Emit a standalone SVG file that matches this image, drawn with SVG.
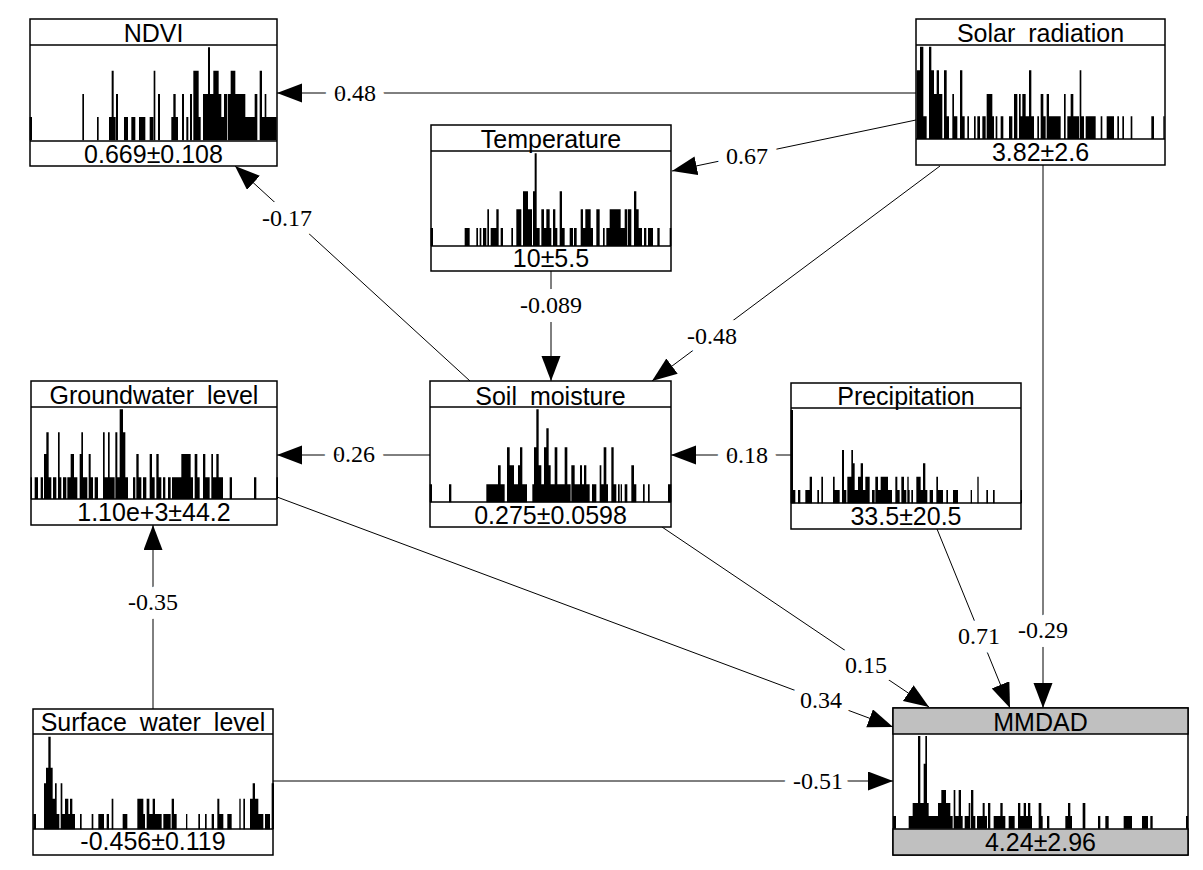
<svg xmlns="http://www.w3.org/2000/svg" width="1203" height="870" viewBox="0 0 1203 870">
<style>
.box{fill:#fff;stroke:#000;stroke-width:1.5}
.band{fill:#c0c0c0;stroke:#000;stroke-width:1.5}
.div{stroke:#000;stroke-width:1.5}
.t{font-family:"Liberation Sans",Arial,sans-serif;font-size:25px;text-anchor:middle;fill:#000;word-spacing:6px}
.h{fill:#000}
.e{stroke:#000;stroke-width:1;fill:none;marker-end:url(#ah)}
.l{font-family:"Liberation Serif","Times New Roman",serif;font-size:24px;text-anchor:middle;fill:#000;paint-order:stroke;stroke:#fff;stroke-width:18px;stroke-linejoin:round}
</style>
<defs>
<marker id="ah" markerUnits="userSpaceOnUse" markerWidth="26" markerHeight="20" refX="25" refY="9.5" orient="auto" viewBox="0 0 26 20">
<path d="M0,0 L25,9.5 L0,19 Z" fill="#000"/>
</marker>
</defs>
<rect width="1203" height="870" fill="#fff"/>

<g id="connectors">
<path class="e" d="M916,93 L277,93"/>
<path class="e" d="M916,120 L672,171"/>
<path class="e" d="M940,166 L652,381"/>
<path class="e" d="M1043,165 L1043,708"/>
<path class="e" d="M551,271 L551,381"/>
<path class="e" d="M470,381 L235,166"/>
<path class="e" d="M430,455 L277,455"/>
<path class="e" d="M791,455 L671,455"/>
<path class="e" d="M662,527 L929,707"/>
<path class="e" d="M937,529 L1010,708"/>
<path class="e" d="M277,497 L893,727"/>
<path class="e" d="M153,709 L153,525"/>
<path class="e" d="M273,781 L893,781"/>
<text class="l" x="355" y="101">0.48</text>
<text class="l" x="747" y="164">0.67</text>
<text class="l" x="712" y="344">-0.48</text>
<text class="l" x="1043" y="638">-0.29</text>
<text class="l" x="551" y="313">-0.089</text>
<text class="l" x="287" y="226">-0.17</text>
<text class="l" x="354" y="462">0.26</text>
<text class="l" x="747" y="463">0.18</text>
<text class="l" x="866" y="673">0.15</text>
<text class="l" x="979" y="644">0.71</text>
<text class="l" x="821" y="708">0.34</text>
<text class="l" x="153" y="610">-0.35</text>
<text class="l" x="818" y="789">-0.51</text>
</g>

<g id="node-ndvi">
<rect class="box" x="30" y="19" width="247" height="147"/>
<path class="h" transform="translate(28,18) scale(0.33333)" d="M5 367V297H12V367ZM163 367V228H168V367ZM207 367V297H212V367ZM243 367V297H251V367ZM251 367V158H257V367ZM257 367V297H263V367ZM264 367V228H270V367ZM288 367V297H300V367ZM310 367V297H322V367ZM333 367V297H352V367ZM365 367V297H376V367ZM377 367V158H382V367ZM390 367V228H396V367ZM430 367V297H436V367ZM436 367V228H443V367ZM443 367V297H450V367ZM462 367V228H468V367ZM475 367V297H481V367ZM486 367V228H492V367ZM496 367V158H512V367ZM512 367V297H518V367ZM525 367V228H540V367ZM540 367V88H546V367ZM546 367V228H556V367ZM556 367V158H572V367ZM572 367V228H580V367ZM580 367V297H588V367ZM588 367V228H598V367ZM600 367V228H608V367ZM608 367V158H622V367ZM622 367V228H652V367ZM652 367V297H680V367ZM680 367V228H688V367ZM695 367V158H702V367ZM702 367V297H746V367ZM710 367V228H715V367Z"/>
<line class="div" x1="30" y1="45" x2="277" y2="45"/>
<line class="div" x1="30" y1="141" x2="277" y2="141"/>
<text class="t" x="153.5" y="42">NDVI</text>
<text class="t" x="153.5" y="163">0.669±0.108</text>
</g>

<g id="node-solar">
<rect class="box" x="916" y="19" width="249" height="146"/>
<path class="h" transform="translate(914,18) scale(0.33333)" d="M8 363V157H18V363ZM18 363V86H28V363ZM28 363V295H38V363ZM45 363V86H52V363ZM52 363V157H60V363ZM60 363V228H68V363ZM68 363V157H75V363ZM75 363V228H85V363ZM90 363V157H98V363ZM98 363V295H105V363ZM115 363V228H120V363ZM120 363V295H130V363ZM138 363V157H145V363ZM145 363V295H152V363ZM160 363V295H165V363ZM180 363V295H185V363ZM190 363V295H198V363ZM205 363V295H215V363ZM218 363V228H235V363ZM235 363V295H240V363ZM245 363V295H250V363ZM260 363V295H268V363ZM285 363V295H295V363ZM300 363V228H310V363ZM315 363V228H320V363ZM320 363V295H325V363ZM325 363V228H335V363ZM335 363V295H345V363ZM345 363V157H352V363ZM352 363V295H360V363ZM370 363V295H375V363ZM380 363V228H388V363ZM388 363V295H395V363ZM398 363V228H405V363ZM405 363V295H440V363ZM450 363V228H455V363ZM460 363V295H470V363ZM470 363V228H478V363ZM478 363V295H495V363ZM497 363V157H502V363ZM502 363V295H510V363ZM515 363V295H545V363ZM560 363V295H565V363ZM578 363V295H600V363ZM610 363V295H615V363ZM625 363V295H630V363ZM650 363V295H655V363ZM712 363V295H720V363ZM748 363V295H752V363Z"/>
<line class="div" x1="916" y1="45" x2="1165" y2="45"/>
<line class="div" x1="916" y1="139" x2="1165" y2="139"/>
<text class="t" x="1040.5" y="42">Solar radiation</text>
<text class="t" x="1040.5" y="161">3.82±2.6</text>
</g>

<g id="node-temperature">
<rect class="box" x="431" y="125" width="240" height="146"/>
<path class="h" transform="translate(428,124) scale(0.33333)" d="M8 366V312H15V366ZM110 366V312H125V366ZM145 366V312H150V366ZM155 366V312H160V366ZM165 366V312H175V366ZM178 366V256H183V366ZM188 366V312H205V366ZM205 366V256H212V366ZM218 366V312H225V366ZM250 366V312H255V366ZM265 366V256H280V366ZM285 366V202H300V366ZM300 366V256H312V366ZM315 366V202H320V366ZM320 366V88H326V366ZM326 366V312H335V366ZM340 366V256H348V366ZM348 366V312H355V366ZM355 366V256H365V366ZM365 366V312H370V366ZM375 366V256H382V366ZM382 366V312H388V366ZM395 366V202H402V366ZM402 366V312H410V366ZM425 366V312H435V366ZM438 366V312H446V366ZM458 366V256H465V366ZM465 366V312H472V366ZM472 366V256H488V366ZM488 366V312H495V366ZM505 366V256H515V366ZM525 366V312H530V366ZM535 366V312H545V366ZM545 366V256H578V366ZM578 366V312H590V366ZM590 366V256H598V366ZM600 366V256H610V366ZM618 366V202H625V366ZM625 366V256H632V366ZM632 366V312H642V366ZM648 366V312H655V366ZM660 366V312H675V366ZM688 366V312H695V366ZM725 366V312H730V366Z"/>
<line class="div" x1="431" y1="151" x2="671" y2="151"/>
<line class="div" x1="431" y1="246" x2="671" y2="246"/>
<text class="t" x="551" y="148">Temperature</text>
<text class="t" x="551" y="267">10±5.5</text>
</g>

<g id="node-groundwater">
<rect class="box" x="31" y="381" width="246" height="144"/>
<path class="h" transform="translate(28,380) scale(0.33333)" d="M8 357V292H12V357ZM20 357V292H30V357ZM38 357V292H45V357ZM48 357V222H55V357ZM55 357V157H62V357ZM62 357V292H70V357ZM75 357V292H85V357ZM90 357V157H95V357ZM95 357V292H100V357ZM105 357V292H115V357ZM118 357V292H128V357ZM128 357V222H138V357ZM138 357V292H148V357ZM155 357V222H160V357ZM160 357V157H165V357ZM165 357V292H178V357ZM182 357V222H188V357ZM188 357V292H195V357ZM200 357V292H210V357ZM225 357V157H230V357ZM230 357V292H240V357ZM240 357V157H245V357ZM245 357V292H260V357ZM262 357V157H268V357ZM268 357V292H275V357ZM275 357V88H285V357ZM285 357V157H292V357ZM292 357V292H300V357ZM315 357V292H322V357ZM325 357V222H332V357ZM332 357V292H340V357ZM345 357V292H355V357ZM365 357V222H372V357ZM372 357V292H380V357ZM385 357V222H392V357ZM392 357V292H400V357ZM405 357V292H412V357ZM420 357V292H428V357ZM432 357V292H460V357ZM460 357V222H488V357ZM488 357V292H495V357ZM500 357V222H508V357ZM508 357V292H515V357ZM525 357V222H532V357ZM532 357V292H545V357ZM550 357V222H555V357ZM555 357V292H565V357ZM565 357V222H572V357ZM572 357V292H585V357ZM605 357V292H612V357ZM678 357V292H685V357ZM745 357V292H750V357Z"/>
<line class="div" x1="31" y1="407" x2="277" y2="407"/>
<line class="div" x1="31" y1="499" x2="277" y2="499"/>
<text class="t" x="154" y="404">Groundwater level</text>
<text class="t" x="154" y="521">1.10e+3±44.2</text>
</g>

<g id="node-soil">
<rect class="box" x="430" y="381" width="241" height="146"/>
<path class="h" transform="translate(428,380) scale(0.33333)" d="M5 367V313H12V367ZM63 367V313H70V367ZM175 367V313H210V367ZM210 367V256H218V367ZM218 367V313H230V367ZM237 367V202H245V367ZM245 367V256H258V367ZM258 367V313H270V367ZM270 367V256H276V367ZM276 367V202H283V367ZM283 367V313H297V367ZM313 367V313H318V367ZM318 367V202H325V367ZM325 367V88H332V367ZM332 367V256H340V367ZM340 367V313H348V367ZM348 367V202H355V367ZM355 367V145H362V367ZM362 367V256H368V367ZM368 367V313H380V367ZM380 367V202H388V367ZM388 367V313H410V367ZM410 367V202H418V367ZM418 367V313H428V367ZM430 367V256H440V367ZM440 367V313H456V367ZM456 367V256H462V367ZM462 367V313H468V367ZM468 367V256H475V367ZM475 367V313H485V367ZM492 367V313H505V367ZM515 367V256H520V367ZM520 367V313H527V367ZM527 367V202H535V367ZM535 367V313H540V367ZM550 367V202H557V367ZM557 367V313H565V367ZM570 367V313H575V367ZM578 367V313H582V367ZM590 367V313H598V367ZM610 367V256H618V367ZM618 367V313H625V367ZM645 367V313H650V367ZM660 367V313H665V367ZM720 367V313H730V367Z"/>
<line class="div" x1="430" y1="407" x2="671" y2="407"/>
<line class="div" x1="430" y1="502" x2="671" y2="502"/>
<text class="t" x="550.5" y="405">Soil moisture</text>
<text class="t" x="550.5" y="524">0.275±0.0598</text>
</g>

<g id="node-precipitation">
<rect class="box" x="791" y="383" width="230" height="146"/>
<path class="h" transform="translate(788,380) scale(0.33333)" d="M8 370V90H15V370ZM15 370V330H22V370ZM30 370V330H37V370ZM52 370V330H65V370ZM65 370V290H72V370ZM88 370V330H93V370ZM100 370V290H105V370ZM135 370V290H140V370ZM140 370V330H155V370ZM162 370V210H168V370ZM168 370V330H175V370ZM178 370V290H190V370ZM190 370V210H195V370ZM195 370V250H200V370ZM200 370V330H210V370ZM210 370V290H218V370ZM218 370V250H225V370ZM225 370V330H232V370ZM232 370V290H245V370ZM252 370V330H260V370ZM262 370V290H270V370ZM270 370V330H278V370ZM278 370V290H300V370ZM300 370V330H312V370ZM322 370V290H328V370ZM328 370V330H335V370ZM340 370V290H348V370ZM348 370V330H355V370ZM358 370V290H362V370ZM362 370V330H365V370ZM370 370V330H375V370ZM385 370V290H398V370ZM398 370V330H405V370ZM405 370V250H412V370ZM412 370V330H418V370ZM425 370V330H435V370ZM445 370V290H450V370ZM450 370V330H465V370ZM475 370V330H480V370ZM495 370V330H510V370ZM548 370V330H552V370ZM568 370V290H572V370ZM595 370V330H600V370ZM615 370V330H620V370ZM698 370V330H702V370Z"/>
<line class="div" x1="791" y1="408" x2="1021" y2="408"/>
<line class="div" x1="791" y1="503" x2="1021" y2="503"/>
<text class="t" x="906" y="405">Precipitation</text>
<text class="t" x="906" y="525">33.5±20.5</text>
</g>

<g id="node-surface">
<rect class="box" x="33" y="709" width="240" height="146"/>
<path class="h" transform="translate(30,706) scale(0.33333)" d="M10 370V324H18V370ZM42 370V232H48V370ZM48 370V185H55V370ZM55 370V92H62V370ZM62 370V185H68V370ZM68 370V278H75V370ZM75 370V232H80V370ZM80 370V324H88V370ZM92 370V232H97V370ZM97 370V324H105V370ZM105 370V278H115V370ZM115 370V324H120V370ZM120 370V278H127V370ZM127 370V324H135V370ZM150 370V324H155V370ZM185 370V324H190V370ZM205 370V324H222V370ZM230 370V324H237V370ZM245 370V278H250V370ZM278 370V324H292V370ZM322 370V278H340V370ZM340 370V324H345V370ZM350 370V278H358V370ZM358 370V324H368V370ZM368 370V278H375V370ZM375 370V324H395V370ZM400 370V324H422V370ZM425 370V278H432V370ZM432 370V324H440V370ZM468 370V324H472V370ZM505 370V324H510V370ZM525 370V324H530V370ZM545 370V324H552V370ZM562 370V278H568V370ZM568 370V324H580V370ZM592 370V324H605V370ZM628 370V278H632V370ZM640 370V278H645V370ZM660 370V278H668V370ZM668 370V232H675V370ZM675 370V278H685V370ZM685 370V324H700V370ZM705 370V324H720V370ZM725 370V232H732V370Z"/>
<line class="div" x1="33" y1="734" x2="273" y2="734"/>
<line class="div" x1="33" y1="829" x2="273" y2="829"/>
<text class="t" x="153" y="731">Surface water level</text>
<text class="t" x="153" y="850">-0.456±0.119</text>
</g>

<g id="node-mmdad">
<rect class="box" x="893" y="708" width="295" height="147"/>
<rect class="band" x="893" y="708" width="295" height="26"/>
<rect class="band" x="893" y="829" width="295" height="26"/>
<path class="h" transform="translate(892,706) scale(0.33333)" d="M3 368V330H12V368ZM50 368V330H62V368ZM62 368V291H78V368ZM78 368V90H85V368ZM85 368V291H95V368ZM95 368V173H100V368ZM100 368V90H105V368ZM105 368V291H110V368ZM110 368V330H138V368ZM138 368V291H148V368ZM148 368V252H162V368ZM162 368V291H175V368ZM175 368V330H182V368ZM185 368V252H190V368ZM190 368V330H200V368ZM200 368V252H207V368ZM207 368V330H212V368ZM218 368V330H230V368ZM230 368V291H235V368ZM237 368V252H244V368ZM244 368V330H250V368ZM255 368V330H272V368ZM272 368V291H278V368ZM278 368V330H285V368ZM288 368V291H295V368ZM305 368V330H325V368ZM325 368V291H332V368ZM332 368V330H340V368ZM350 368V330H368V368ZM378 368V291H385V368ZM385 368V330H395V368ZM395 368V291H402V368ZM402 368V330H408V368ZM408 368V291H415V368ZM415 368V330H420V368ZM440 368V291H448V368ZM448 368V330H452V368ZM465 368V330H472V368ZM520 368V330H528V368ZM528 368V291H535V368ZM535 368V330H540V368ZM572 368V291H580V368ZM618 368V330H625V368ZM640 368V330H650V368ZM695 368V330H720V368ZM750 368V330H768V368ZM775 368V330H782V368ZM882 368V330H888V368Z"/>
<text class="t" x="1040.5" y="731">MMDAD</text>
<text class="t" x="1040.5" y="851">4.24±2.96</text>
</g>
</svg>
